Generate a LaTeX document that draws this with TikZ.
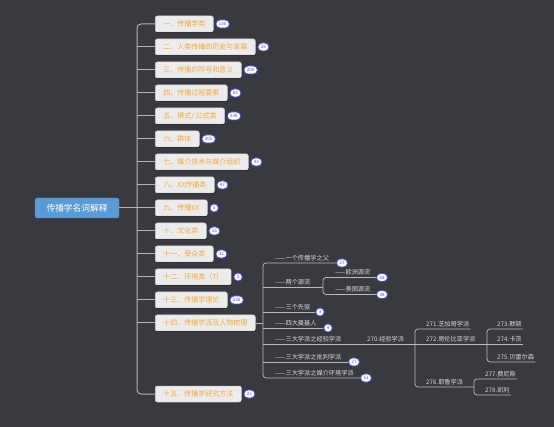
\documentclass[tikz,border=0pt]{standalone}
\usepackage{fontspec}
\setmainfont{Noto Sans CJK SC}
\usetikzlibrary{shadows}
\definecolor{bg}{HTML}{393A3F}
\definecolor{rootc}{HTML}{5B9BD5}
\definecolor{boxc}{HTML}{ECECEC}
\definecolor{boxd}{HTML}{CFCFCF}
\definecolor{orangetxt}{HTML}{F2A93B}
\definecolor{linec}{HTML}{B4B4B4}
\definecolor{badgeb}{HTML}{4B4BD8}
\definecolor{lt}{HTML}{DADADA}
\tikzset{
 rootbox/.style={fill=rootc, draw=rootc!85!black, rounded corners=2pt, text=white, font=\fontsize{8.7}{9}\selectfont, minimum width=84pt, minimum height=20pt, inner sep=0pt},
 catbox/.style={fill=boxc, draw=boxd, line width=0.5pt, rounded corners=2pt, text=orangetxt, font=\fontsize{7}{8}\selectfont, minimum height=16pt, inner xsep=8pt, inner ysep=0pt, anchor=west, drop shadow={shadow xshift=0.6pt, shadow yshift=-0.8pt, opacity=0.5, fill=black}},
 badge/.style={fill=white, draw=badgeb, line width=0.8pt, rounded corners=4pt, text=badgeb, font=\fontsize{4.5}{4.5}\selectfont, minimum height=8pt, minimum width=8pt, inner xsep=3pt, inner ysep=0pt},
 leaf/.style={text=lt, font=\fontsize{6.2}{7}\selectfont, inner xsep=1pt, inner ysep=1.5pt, anchor=south west},
 conn/.style={draw=linec, line width=1pt, rounded corners=4pt},
 thinl/.style={draw=linec!90!white, line width=0.8pt, rounded corners=3pt},
}
\begin{document}
\begin{tikzpicture}[x=1pt,y=-1pt]
\fill[bg] (0,0) rectangle (554,427);
\useasboundingbox (0,0) rectangle (554,427);
% root
\node[rootbox] (root) at (77,208) {传播学名词解释};
% level 1
\node[catbox] (n1) at (155,24) {一、传播学类};
\node[catbox] (n2) at (155,47) {二、人类传播的历史与发展};
\node[catbox] (n3) at (155,70) {三、传播的符号和意义};
\node[catbox] (n4) at (155,93) {四、传播过程要素};
\node[catbox] (n5) at (155,116) {五、模式/ 公式类};
\node[catbox] (n6) at (155,139) {六、群体};
\node[catbox] (n7) at (155,162) {七、媒介技术与媒介组织};
\node[catbox] (n8) at (155,185) {八、XX传播类};
\node[catbox] (n9) at (155,208) {九、传播XX};
\node[catbox] (n10) at (155,231) {十、文化类};
\node[catbox] (n11) at (155,254) {十一、受众类};
\node[catbox] (n12) at (155,277) {十二、环境类（7）};
\node[catbox] (n13) at (155,300) {十三、传播学理论};
\node[catbox] (n14) at (155,323) {十四、传播学派及人物梳理};
\node[catbox] (n15) at (155,394) {十五、传播学研究方法};
% badges level 1
\foreach \i/\v in {1/130,2/28,3/200,4/83,5/238,6/205,7/43,8/47,9/3,10/15,11/32,12/3,13/538,15/23}
  \node[badge, anchor=west] (b\i) at ([xshift=2pt]n\i.east) {\v};
% trunk
\draw[conn] (root.east) -- (n9.west);
\draw[conn] (n1.west) -- ++(-18,0) |- (n15.west);
\foreach \i in {2,...,14} \draw[conn] (n\i.west) -- ++(-18,0);
% level 2 under 十四
\coordinate (k14) at (263,323);
\draw[thinl] (n14.east) -- (k14);
\node[leaf] (l1) at (274,263) {——一个传播学之父};
\node[badge] (c1) at (342,263) {27};
\node[leaf] (l2) at (274,287) {——两个源流};
\coordinate (k2) at (323,287);
\node[leaf] (l2a) at (334,277) {——欧洲源流};
\node[badge] (c2a) at (382,277.5) {58};
\node[leaf] (l2b) at (334,294) {——美国源流};
\node[badge] (c2b) at (382,294.5) {38};
\node[leaf] (l3) at (274,312) {——三个先驱};
\node[badge] (c3) at (320,312) {3};
\node[leaf] (l4) at (274,328) {——四大奠基人};
\node[badge] (c4) at (328,328) {4};
\node[leaf] (l5) at (274,344) {——三大学派之经验学派};
\node[leaf] (l270) at (366,344) {270.经验学派};
\coordinate (k270) at (415,344);
\node[leaf] (l271) at (425,329) {271.芝加哥学派};
\node[leaf] (l272) at (425,344) {272.哥伦比亚学派};
\coordinate (k272) at (487,344);
\node[leaf] (l273) at (496,329) {273.默顿};
\node[leaf] (l274) at (496,344) {274.卡茨};
\node[leaf] (l275) at (496,362) {275.贝雷尔森};
\node[leaf] (l276) at (425,387) {276.耶鲁学派};
\coordinate (k276) at (474,387);
\node[leaf] (l277) at (484,379) {277.费尼斯};
\node[leaf] (l278) at (484,395) {278.凯利};
\node[leaf] (l6) at (274,362) {——三大学派之批判学派};
\node[badge] (c6) at (354,362) {27};
\node[leaf] (l7) at (274,378) {——三大学派之媒介环境学派};
\node[badge] (c7) at (366,378) {51};
% level 2 connectors
\draw[thinl] (c1.west) -| (k14) |- (c7.west);
\draw[thinl] (k14 |- k2) -- (k2);
\draw[thinl] (c2a.west) -| (k2) |- (c2b.west);
\draw[thinl] (k14 |- c3.west) -- (c3.west);
\draw[thinl] (k14 |- c4.west) -- (c4.west);
\draw[thinl] (k14 |- k270) -- (k270);
\draw[thinl] (k14 |- c6.west) -- (c6.west);
\draw[thinl] (l271.south east) -| (k270) |- (k276);
\draw[thinl] (k270) -- (k272);
\draw[thinl] (l273.south east) -| (k272) |- (l275.south east);
\draw[thinl] (k272) -- (l274.south east);
\draw[thinl] (l277.south east) -| (k276) |- (l278.south east);
\end{tikzpicture}
\end{document}
